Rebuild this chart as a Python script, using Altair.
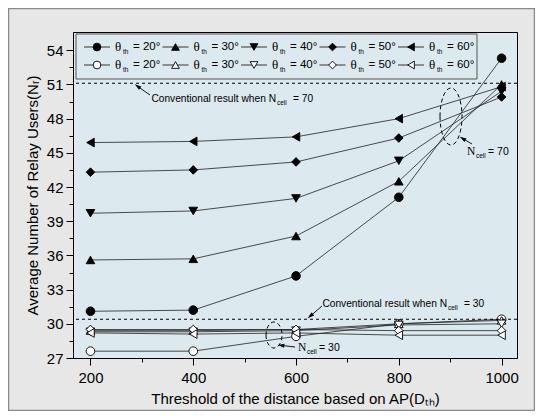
import math
import altair as alt
import pandas as pd

# ---------------- data ----------------
D = [200, 400, 600, 800, 1000]
thetas = ["20", "30", "40", "50", "60"]
filled_20 = [31.1, 31.2, 34.2, 41.1, 53.3]
filled_30 = [35.6, 35.7, 37.7, 42.5, 51.0]
filled_40 = [39.7, 39.9, 41.0, 44.3, 50.4]
filled_50 = [43.3, 43.5, 44.2, 46.3, 49.9]
filled_60 = [45.9, 46.0, 46.4, 48.0, 50.8]
open_20 = [27.6, 27.6, 28.9, 30.0, 30.4]
open_30 = [29.4, 29.4, 29.5, 30.0, 30.3]
open_40 = [29.3, 29.3, 29.4, 29.9, 30.0]
open_50 = [29.5, 29.5, 29.5, 29.4, 29.4]
open_60 = [29.2, 29.1, 29.2, 29.0, 29.0]
conv_70 = 51.1
conv_30 = 30.4

filled = [filled_20, filled_30, filled_40, filled_50, filled_60]
opened = [open_20, open_30, open_40, open_50, open_60]

rows = []
for kind, series in (("filled", filled), ("open", opened)):
    for th, vals in zip(thetas, series):
        for d, v in zip(D, vals):
            rows.append({"D": d, "N": v, "theta": th, "kind": kind, "sid": kind + th})
df = pd.DataFrame(rows)

# ---------------- geometry ----------------
W, H = 444, 326
XDOM = [166, 1030]
YDOM = [27, 55.6]
OX, OY = 73, 32  # plot origin on page


def px2x(p):
    return XDOM[0] + (p - OX) / W * (XDOM[1] - XDOM[0])


def py2y(p):
    return YDOM[1] - (p - OY) / H * (YDOM[1] - YDOM[0])


FONT = "Liberation Sans"
SERIF = "Liberation Serif"
shape_range = ["circle", "triangle-up", "triangle-down", "diamond", "triangle-left"]
xs = alt.Scale(domain=XDOM, nice=False, zero=False)
ys = alt.Scale(domain=YDOM, nice=False, zero=False)
shape_enc = alt.Shape("theta:N", scale=alt.Scale(domain=thetas, range=shape_range), legend=None)
fill_enc = alt.Fill("kind:N", scale=alt.Scale(domain=["filled", "open"], range=["black", "white"]), legend=None)

xaxis = alt.Axis(
    values=list(range(200, 1001, 100)),
    labelExpr="datum.value % 200 === 0 ? datum.label : ''",
    tickSize={"condition": {"test": "datum.value % 200 === 0", "value": 7}, "value": 4},
    format="d", grid=False, title="Threshold of the distance based on AP(Dₜₕ)",
    labelFontSize=15, titleFontSize=15, labelPadding=5, titlePadding=6,
    labelFont=FONT, titleFont=FONT, titleFontWeight="normal",
    domainColor="black", tickColor="black", labelColor="black", titleColor="black",
)
yaxis = alt.Axis(
    values=[27 + 1.5 * k for k in range(19)],
    labelExpr="datum.value % 3 === 0 ? datum.label : ''",
    tickSize={"condition": {"test": "datum.value % 3 === 0", "value": 7}, "value": 4},
    format="d", grid=False, title="Average Number of Relay Users(Nᵣ)",
    labelFontSize=15, titleFontSize=15, labelPadding=3, titlePadding=6,
    labelFont=FONT, titleFont=FONT, titleFontWeight="normal",
    domainColor="black", tickColor="black", labelColor="black", titleColor="black",
)


def XE(f):
    return alt.X(f + ":Q", scale=xs, axis=xaxis)


def YE(f):
    return alt.Y(f + ":Q", scale=ys, axis=yaxis)


lines = alt.Chart(df).mark_line(color="#222", strokeWidth=0.8).encode(x=XE("D"), y=YE("N"), detail="sid:N")
points = alt.Chart(df).mark_point(filled=True, opacity=1, fillOpacity=1, stroke="black", strokeWidth=0.9).encode(
    x=XE("D"), y=YE("N"), shape=shape_enc, fill=fill_enc, size=alt.value(75)
)

ref = pd.DataFrame({"N": [conv_70, conv_30]})
refs = alt.Chart(ref).mark_rule(color="black", strokeDash=[3, 3], strokeWidth=1.1).encode(y=YE("N"))

# ---------------- legend (built from series names) ----------------
lg_rows = []
for r, kind in enumerate(["filled", "open"]):
    py = 47 + 18 * r
    for i, th in enumerate(thetas):
        x0 = 84 + 78.5 * i
        lg_rows.append({
            "kind": kind, "theta": th,
            "lx": px2x(x0), "lx2": px2x(x0 + 26), "mx": px2x(x0 + 13),
            "tx": px2x(x0 + 31), "y": py2y(py), "lab": "= " + th + "°",
        })
lg = pd.DataFrame(lg_rows)
box = pd.DataFrame({"x": [px2x(76)], "x2": [px2x(477)], "y": [py2y(34)], "y2": [py2y(79)]})
lg_box = alt.Chart(box).mark_rect(fill="#dce9ee", stroke="#555", strokeWidth=1).encode(
    x=XE("x"), x2="x2:Q", y=YE("y"), y2="y2:Q"
)
lg_line = alt.Chart(lg).mark_rule(color="#222", strokeWidth=0.9).encode(x=XE("lx"), x2="lx2:Q", y=YE("y"))
lg_pt = alt.Chart(lg).mark_point(filled=True, opacity=1, fillOpacity=1, stroke="black", strokeWidth=0.9).encode(
    x=XE("mx"), y=YE("y"), shape=shape_enc, fill=fill_enc, size=alt.value(60)
)
lg_theta = alt.Chart(lg).mark_text(text="θ", font=SERIF, fontSize=13, align="left", baseline="middle", color="black").encode(
    x=XE("tx"), y=YE("y")
)
lg_th = alt.Chart(lg).mark_text(text="th", font=FONT, fontSize=6.5, align="left", baseline="middle", dx=8, dy=5, color="black").encode(
    x=XE("tx"), y=YE("y")
)
lg_lab = alt.Chart(lg).mark_text(font=FONT, fontSize=11.5, align="left", baseline="middle", dx=18, color="black").encode(
    x=XE("tx"), y=YE("y"), text="lab:N"
)

# ---------------- annotations ----------------
layers_ann = []


def txt(px, py, s, size, font=FONT, align="left", dx=0, dy=0):
    d = pd.DataFrame({"x": [px2x(px)], "y": [py2y(py)]})
    return alt.Chart(d).mark_text(text=s, font=font, fontSize=size, align=align, baseline="middle",
                                  dx=dx, dy=dy, color="black").encode(x=XE("x"), y=YE("y"))


def ncell_label(px, py, value, prefix):
    out = []
    if prefix:
        out.append(txt(px, py, "Conventional result when N", 10.2, align="right"))
        out.append(txt(px, py, "cell", 6.5, dx=1, dy=4))
        out.append(txt(px, py, "= " + value, 10.2, dx=17))
    else:
        out.append(txt(px, py, "N", 11.5, font=SERIF))
        out.append(txt(px, py, "cell", 6.5, dx=9, dy=4))
        out.append(txt(px, py, "= " + value, 10.5, dx=21))
    return out


def arrow(tail, head):
    (tx, ty), (hx, hy) = tail, head
    dxp, dyp = hx - tx, hy - ty
    L = math.hypot(dxp, dyp)
    ang = math.degrees(math.atan2(dxp, -dyp)) % 360
    cx, cy = hx - 3 * dxp / L, hy - 3 * dyp / L
    seg = pd.DataFrame({"x": [px2x(tx)], "y": [py2y(ty)], "x2": [px2x(cx)], "y2": [py2y(cy)]})
    shaft = alt.Chart(seg).mark_rule(color="black", strokeWidth=0.9).encode(
        x=XE("x"), y=YE("y"), x2="x2:Q", y2="y2:Q")
    hd = pd.DataFrame({"x": [px2x(cx)], "y": [py2y(cy)]})
    headm = alt.Chart(hd).mark_point(shape="M0,-1L0.6,1L-0.6,1Z", filled=True, color="black", opacity=1,
                                     size=45, angle=ang).encode(x=XE("x"), y=YE("y"))
    return [shaft, headm]


def ellipse(px, py, w, h):
    r = w / h
    path = f"M{-r},0A{r},1 0 1,0 {r},0A{r},1 0 1,0 {-r},0"
    d = pd.DataFrame({"x": [px2x(px)], "y": [py2y(py)]})
    return alt.Chart(d).mark_point(shape=path, filled=False, color="black", strokeWidth=1, opacity=1,
                                   strokeDash=[4, 3], size=h * h).encode(x=XE("x"), y=YE("y"))


layers_ann += ncell_label(276, 99, "70", True)
layers_ann += ncell_label(447, 304, "30", True)
layers_ann += ncell_label(467, 152, "70", False)
layers_ann += ncell_label(298, 348, "30", False)
layers_ann += arrow((150, 95), (135, 84.5))
layers_ann += arrow((322, 306), (308, 318))
layers_ann += arrow((472, 144), (460, 137))
layers_ann += arrow((295, 347), (278, 345))
layers_ann.append(ellipse(451, 116.5, 22, 57))
layers_ann.append(ellipse(274, 335, 16, 26))

frame = alt.Chart(pd.DataFrame({"a": [0]})).mark_rect(fillOpacity=0, stroke="#8a8a8a", strokeWidth=1.5).encode(
    x=alt.value(-64.5), x2=alt.value(461.5), y=alt.value(-23.5), y2=alt.value(378.5)
)

chart = alt.layer(
    lines, points, refs, frame, lg_box, lg_line, lg_pt, lg_theta, lg_th, lg_lab, *layers_ann
).properties(
    width=W, height=H,
    autosize=alt.AutoSizeParams(type="none"),
    padding={"left": 65, "top": 24, "right": 18, "bottom": 53},
    background="#e7e7e7",
).configure_view(
    fill="#dce9ee", stroke="black", strokeWidth=1
)

chart.save("out.html", embed_options={"renderer": "svg", "actions": False})
